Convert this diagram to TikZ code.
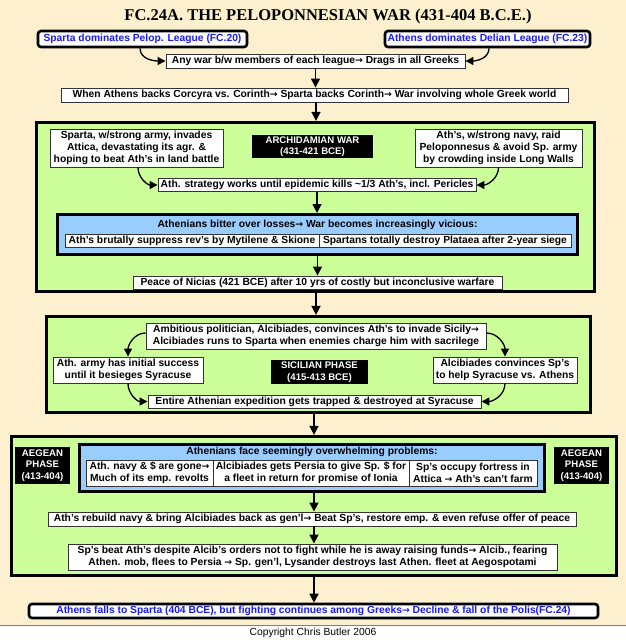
\documentclass[tikz,border=0pt]{standalone}
\usepackage{fontspec}
\setmainfont{Liberation Sans}
\newfontfamily\titlefont{Liberation Serif}
\newfontfamily\arrfont{DejaVu Sans}
\usetikzlibrary{arrows.meta,calc}
\definecolor{cream}{RGB}{253,240,206}
\definecolor{lgreen}{RGB}{204,255,153}
\definecolor{lblue}{RGB}{153,204,255}
\definecolor{tblue}{RGB}{25,25,255}
\newcommand\fsz{\fontsize{10.3}{12}\selectfont}
\newcommand\ra{{\arrfont\bfseries\fontsize{9.3}{10}\selectfont →}}
\begin{document}
\begin{tikzpicture}[x=1pt,y=-1pt,
  box/.style={draw=black!80, line width=0.9pt, fill=white, inner sep=0pt, align=center, font=\fsz\bfseries},
  topbox/.style={draw=black, line width=2.6pt, rounded corners=3pt, fill=white, inner sep=0pt, align=center, font=\fsz\bfseries, text=tblue},
  grn/.style={draw=black, line width=3.2pt, fill=lgreen, inner sep=0pt},
  blu/.style={draw=black, line width=3pt, fill=lblue, inner sep=0pt},
  blk/.style={fill=black, text=white, inner sep=0pt, align=center, font=\fontsize{9.6}{11.5}\selectfont\bfseries},
  lbl/.style={inner sep=0pt, align=center, font=\fsz\bfseries},
  arr/.style={line width=1.5pt, -{Triangle[length=9pt,width=9pt]}},
  carr/.style={line width=1.3pt, -{Triangle[length=8pt,width=8pt]}},
]
\useasboundingbox (0,0) rectangle (626,640);
\fill[white] (0,0) rectangle (626,640);
\fill[cream] (0,0) rectangle (626,625);
\draw[black!50, line width=0.8pt] (0,625) -- (626,625);

\node[font=\titlefont\fontsize{16.5}{18}\selectfont\bfseries] (title) at (328,17) {FC.24A. THE PELOPONNESIAN WAR (431-404 B.C.E.)};

\node[topbox, minimum width=209, minimum height=16] (tl) at (142.5,39) {Sparta dominates Pelop. League (FC.20)};
\node[topbox, minimum width=205, minimum height=16] (tr) at (487.5,39) {Athens dominates Delian League (FC.23)};
\node[box, minimum width=299, minimum height=14] (anywar) at (315.5,61) {Any war b/w members of each league\ra\ Drags in all Greeks};
\node[box, minimum width=507, minimum height=14] (when) at (314.5,95) {When Athens backs Corcyra vs. Corinth\ra\ Sparta backs Corinth\ra\ War involving whole Greek world};

% green box 1
\node[grn, minimum width=558, minimum height=169] (g1) at (315.5,207) {};
\node[box, minimum width=173, minimum height=38] (g1l) at (136.5,148) {Sparta, w/strong army, invades\\Attica, devastating its agr. \&\\hoping to beat Ath's in land battle};
\node[blk, minimum width=121, minimum height=23] (g1k) at (312.5,146.5) {ARCHIDAMIAN WAR\\(431-421 BCE)};
\node[box, minimum width=167, minimum height=38] (g1r) at (498.5,148) {Ath's, w/strong navy, raid\\Peloponnesus \& avoid Sp. army\\by crowding inside Long Walls};
\node[box, minimum width=318, minimum height=13] (strat) at (317,185) {Ath. strategy works until epidemic kills \textasciitilde1/3 Ath's, incl. Pericles};
\node[blu, minimum width=520, minimum height=40] (b1) at (317.5,234.5) {};
\node[lbl] (b1t) at (317.5,225) {Athenians bitter over losses\ra\ War becomes increasingly vicious:};
\node[box, minimum width=254, minimum height=13] (b1a) at (192,241) {Ath's brutally suppress rev's by Mytilene \& Skione};
\node[box, minimum width=252, minimum height=13] (b1b) at (445,241) {Spartans totally destroy Plataea after 2-year siege};
\node[box, minimum width=369, minimum height=13] (peace) at (317.5,282.5) {Peace of Nicias (421 BCE) after 10 yrs of costly but inconclusive warfare};

% green box 2
\node[grn, minimum width=544, minimum height=96] (g2) at (318.5,364.5) {};
\node[box, minimum width=340, minimum height=26] (g2t) at (316,336) {Ambitious politician, Alcibiades, convinces Ath's to invade Sicily\ra\\Alcibiades runs to Sparta when enemies charge him with sacrilege};
\node[box, minimum width=150, minimum height=26] (g2l) at (128,370) {Ath. army has initial success\\until it besieges Syracuse};
\node[blk, minimum width=97, minimum height=24] (g2k) at (319.5,372) {SICILIAN PHASE\\(415-413 BCE)};
\node[box, minimum width=144, minimum height=26] (g2r) at (505,370) {Alcibiades convinces Sp's\\to help Syracuse vs. Athens};
\node[box, minimum width=333, minimum height=13] (g2b) at (314.5,401.5) {Entire Athenian expedition gets trapped \& destroyed at Syracuse};

% green box 3
\node[grn, minimum width=605, minimum height=139] (g3) at (314,506) {};
\node[blk, minimum width=55, minimum height=37] (g3kl) at (42.5,465.5) {AEGEAN\\PHASE\\(413-404)};
\node[blk, minimum width=55, minimum height=37] (g3kr) at (581.5,465.5) {AEGEAN\\PHASE\\(413-404)};
\node[blu, minimum width=465, minimum height=47] (b3) at (312,468) {};
\node[lbl] (b3t) at (312,452) {Athenians face seemingly overwhelming problems:};
\node[box, minimum width=127, minimum height=26] (b3a) at (149.5,473) {Ath. navy \& \$ are gone\ra\\Much of its emp. revolts};
\node[box, minimum width=196, minimum height=26] (b3b) at (311,473) {Alcibiades gets Persia to give Sp. \$ for\\a fleet in return for promise of Ionia};
\node[box, minimum width=128, minimum height=26] (b3c) at (473,473) {Sp's occupy fortress in\\Attica \ra\ Ath's can't farm};
\node[box, minimum width=528, minimum height=14] (rebuild) at (312,519) {Ath's rebuild navy \& bring Alcibiades back as gen'l\ra\ Beat Sp's, restore emp. \& even refuse offer of peace};
\node[box, minimum width=489, minimum height=26] (spbeat) at (312.5,557) {Sp's beat Ath's despite Alcib's orders not to fight while he is away raising funds\ra\ Alcib., fearing\\Athen. mob, flees to Persia \ra\ Sp. gen'l, Lysander destroys last Athen. fleet at Aegospotami};

\node[topbox, minimum width=569, minimum height=14] (final) at (313.5,611) {Athens falls to Sparta (404 BCE), but fighting continues among Greeks\ra\ Decline \& fall of the Polis(FC.24)};

\node[inner sep=0pt, font=\fontsize{10.3}{11}\selectfont] (copy) at (313,633) {Copyright Chris Butler 2006};

% connectors
\draw[carr] ([xshift=-2.5pt]tl.south) to[out=-90,in=180] (anywar.west);
\draw[carr] ([xshift=1.5pt]tr.south) to[out=-90,in=0] (anywar.east);
\draw[arr] (anywar.south) -- (anywar.south |- when.north);
\draw[arr] ([xshift=1.5pt]when.south) -- ([xshift=1.5pt]when.south |- g1.north);
\draw[carr] ([xshift=1.5pt]g1l.south) to[out=-90,in=180] (strat.west);
\draw[carr] (g1r.south) to[out=-90,in=0] (strat.east);
\draw[arr] (strat.south) -- (strat.south |- b1.north);
\draw[arr] (b1.south) -- (b1.south |- peace.north);
\draw[arr] ([xshift=0.5pt]g1.south) -- ([xshift=0.5pt]g1.south |- g2.north);
\draw[carr] ([yshift=3pt]g2t.west) to[out=180,in=90] (g2l.north);
\draw[carr] ([yshift=3pt]g2t.east) to[out=0,in=90] (g2r.north);
\draw[carr] (g2l.south) to[out=-90,in=180] (g2b.west);
\draw[carr] (g2r.south) to[out=-90,in=0] (g2b.east);
\draw[arr] (g3.north |- g2.south) -- (g3.north);
\draw[arr] ([xshift=2pt]b3.south) -- ([xshift=2pt]b3.south |- rebuild.north);
\draw[arr] ([xshift=2pt]rebuild.south) -- ([xshift=2pt]rebuild.south |- spbeat.north);
\draw[arr] (g3.south) -- (g3.south |- final.north);
\end{tikzpicture}
\end{document}
